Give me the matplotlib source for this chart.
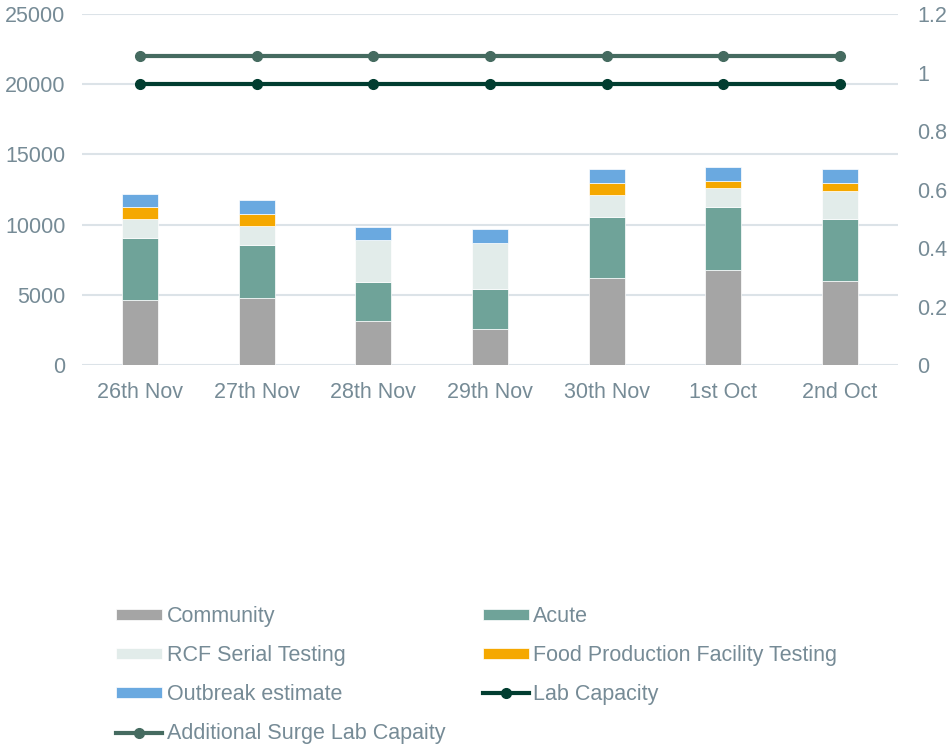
import numpy as np
import matplotlib.pyplot as plt

plt.rcParams['font.family'] = ['Liberation Sans', 'DejaVu Sans']

# data
days = ["26th Nov", "27th Nov", "28th Nov", "29th Nov", "30th Nov", "1st Oct", "2nd Oct"]
community = [4630, 4750, 3160, 2590, 6220, 6770, 5980]
acute = [4390, 3820, 2730, 2850, 4290, 4505, 4400]
rcf_serial = [1355, 1350, 3010, 3220, 1570, 1355, 2040]
food_production = [900, 810, 0, 0, 910, 470, 570]
outbreak = [925, 1000, 900, 1050, 995, 1000, 995]
lab_capacity = [20000] * 7
surge_capacity = [22000] * 7

text_col = '#768B96'
grid_col = '#DCE3E8'
fs = 15.5

fig = plt.figure(figsize=(9.49, 7.45), dpi=100)
ax = fig.add_axes([82 / 949, 1 - 365 / 745, (898 - 82) / 949, (365 - 14) / 745])
ax2 = ax.twinx()

x = np.arange(len(days))
width = 0.31
stacks = [
    (community, '#A5A5A5', 'Community'),
    (acute, '#6FA399', 'Acute'),
    (rcf_serial, '#E2ECEA', 'RCF Serial Testing'),
    (food_production, '#F5A800', 'Food Production Facility Testing'),
    (outbreak, '#6AA9E0', 'Outbreak estimate'),
]
bottom = np.zeros(len(days))
bars = {}
for vals, col, name in stacks:
    bars[name] = ax.bar(x, vals, width, bottom=bottom, color=col, label=name,
                        edgecolor='white', linewidth=0.5, zorder=3)
    bottom += np.array(vals)

l_lab, = ax.plot(x, lab_capacity, color='#013D30', lw=3, marker='o', ms=7,
                 label='Lab Capacity', zorder=4)
l_surge, = ax.plot(x, surge_capacity, color='#456B60', lw=3, marker='o', ms=7,
                   label='Additional Surge Lab Capaity', zorder=4)

ax.set_xlim(-0.5, len(days) - 0.5)
ax.set_ylim(0, 25000)
ax.set_yticks(np.arange(0, 25001, 5000))
ax.set_xticks(x)
ax.set_xticklabels(days)
ax.grid(axis='y', color=grid_col, lw=1.5, zorder=0)
ax.set_axisbelow(True)
for s in ax.spines.values():
    s.set_visible(False)
ax.tick_params(axis='both', length=0, labelsize=fs, labelcolor=text_col)
ax.tick_params(axis='y', pad=12)
ax.tick_params(axis='x', pad=12)

ax2.set_ylim(0, 1.2)
ax2.set_yticks([0, 0.2, 0.4, 0.6, 0.8, 1.0, 1.2])
ax2.set_yticklabels(['0', '0.2', '0.4', '0.6', '0.8', '1', '1.2'])
for s in ax2.spines.values():
    s.set_visible(False)
ax2.tick_params(axis='y', length=0, labelsize=fs, labelcolor=text_col, pad=14)

handles = [bars['Community'], bars['RCF Serial Testing'], bars['Outbreak estimate'], l_surge,
           bars['Acute'], bars['Food Production Facility Testing'], l_lab]
labels = [h.get_label() for h in handles]
fig.legend(handles, labels, loc='upper left', bbox_to_anchor=(116 / 949, 1 - 606 / 745),
           ncol=2, frameon=False, fontsize=fs, labelcolor=text_col, handlelength=2.15,
           handletextpad=0.2, handleheight=0.45, labelspacing=0.84, columnspacing=1.75,
           borderpad=0, borderaxespad=0)

fig.savefig('out.png', dpi=100)
